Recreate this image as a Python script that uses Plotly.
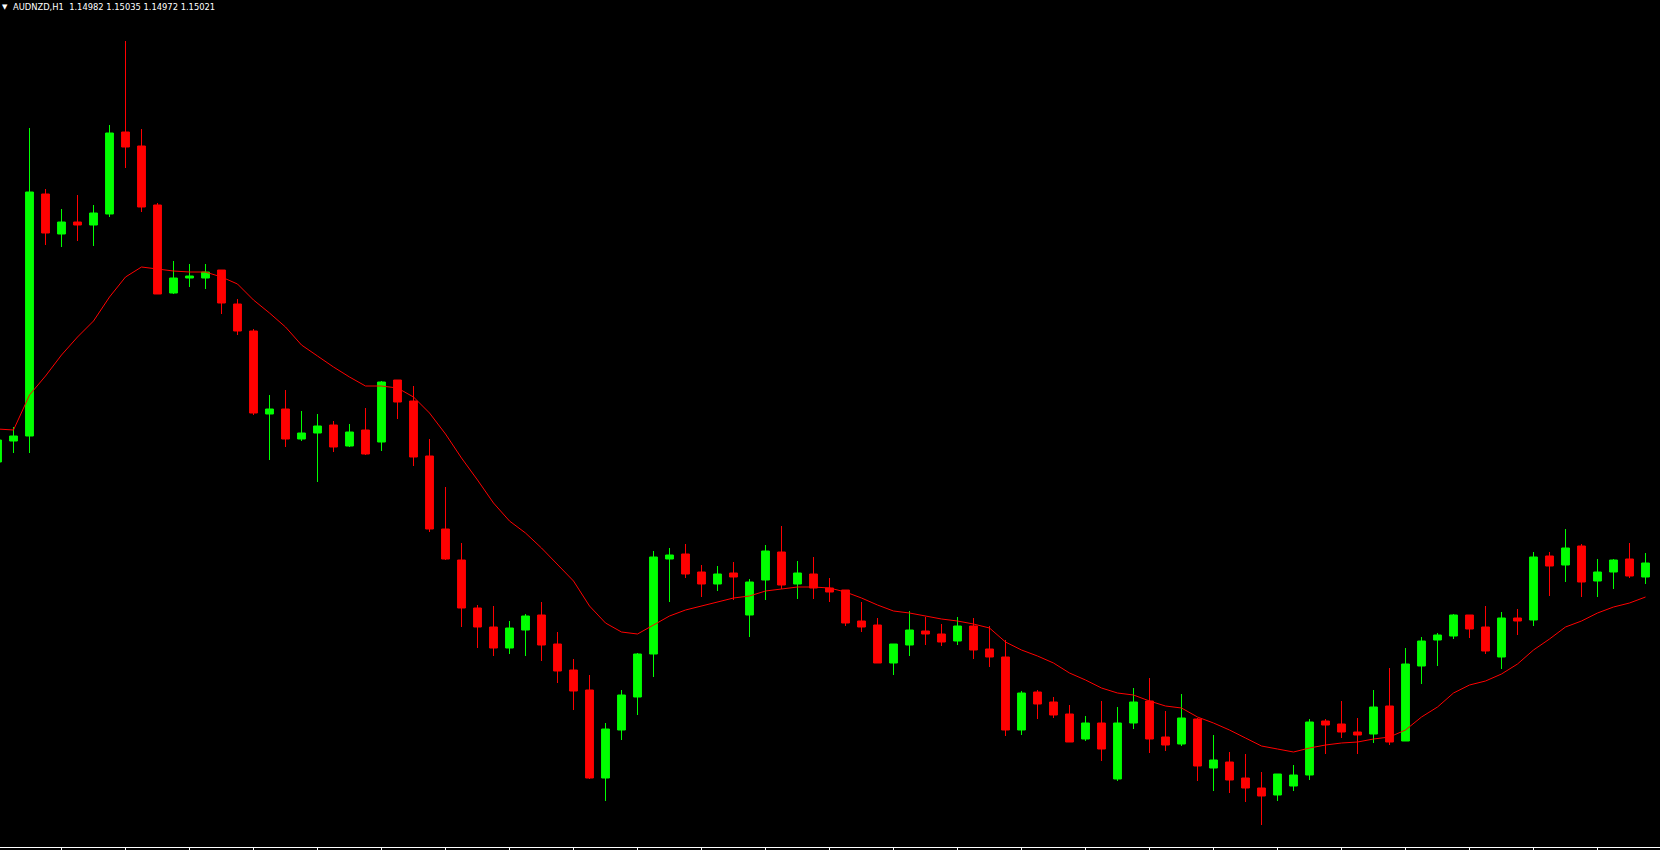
import plotly.graph_objects as go

symbol = "AUDNZD,H1"
header_values = ["1.14982", "1.15035", "1.14972", "1.15021"]

bars = list(range(104))

opens = [1.15122, 1.15143, 1.15148, 1.15390, 1.15350, 1.15362, 1.15359, 1.15370, 1.15452, 1.15438,
         1.15379, 1.15291, 1.15306, 1.15306, 1.15314, 1.15280, 1.15253, 1.15170, 1.15175, 1.15145,
         1.15151, 1.15159, 1.15138, 1.15154, 1.15142, 1.15204, 1.15183, 1.15128, 1.15055, 1.15024,
         1.14976, 1.14957, 1.14936, 1.14954, 1.14969, 1.14940, 1.14914, 1.14894, 1.14806, 1.14854,
         1.14887, 1.14930, 1.15025, 1.15030, 1.15012, 1.15000, 1.15011, 1.14969, 1.15004, 1.15032,
         1.15000, 1.15010, 1.14996, 1.14994, 1.14963, 1.14959, 1.14921, 1.14939, 1.14953, 1.14950,
         1.14943, 1.14958, 1.14935, 1.14927, 1.14854, 1.14892, 1.14882, 1.14870, 1.14845, 1.14861,
         1.14805, 1.14861, 1.14883, 1.14847, 1.14840, 1.14865, 1.14816, 1.14822, 1.14806, 1.14796,
         1.14789, 1.14798, 1.14809, 1.14863, 1.14860, 1.14852, 1.14850, 1.14878, 1.14843, 1.14918,
         1.14944, 1.14948, 1.14969, 1.14957, 1.14927, 1.14966, 1.14964, 1.15028, 1.15019, 1.15038,
         1.15003, 1.15012, 1.15025, 1.15007]

highs = [1.15146, 1.15157, 1.15456, 1.15395, 1.15375, 1.15389, 1.15379, 1.15459, 1.15543, 1.15455,
         1.15381, 1.15323, 1.15320, 1.15320, 1.15314, 1.15285, 1.15255, 1.15189, 1.15194, 1.15173,
         1.15170, 1.15163, 1.15160, 1.15176, 1.15203, 1.15204, 1.15198, 1.15145, 1.15097, 1.15041,
         1.14979, 1.14978, 1.14963, 1.14970, 1.14982, 1.14952, 1.14925, 1.14909, 1.14861, 1.14894,
         1.14931, 1.15033, 1.15036, 1.15040, 1.15019, 1.15018, 1.15022, 1.15005, 1.15039, 1.15058,
         1.15023, 1.15027, 1.15006, 1.14994, 1.14982, 1.14966, 1.14940, 1.14973, 1.14967, 1.14960,
         1.14967, 1.14966, 1.14958, 1.14944, 1.14893, 1.14894, 1.14887, 1.14879, 1.14868, 1.14883,
         1.14877, 1.14896, 1.14906, 1.14873, 1.14890, 1.14866, 1.14849, 1.14832, 1.14830, 1.14812,
         1.14810, 1.14819, 1.14865, 1.14865, 1.14883, 1.14866, 1.14894, 1.14916, 1.14936, 1.14947,
         1.14951, 1.14970, 1.14969, 1.14978, 1.14972, 1.14975, 1.15032, 1.15032, 1.15055, 1.15040,
         1.15025, 1.15025, 1.15041, 1.15031]

lows = [1.15120, 1.15131, 1.15131, 1.15339, 1.15337, 1.15343, 1.15338, 1.15367, 1.15416, 1.15372,
        1.15290, 1.15290, 1.15297, 1.15295, 1.15270, 1.15249, 1.15169, 1.15124, 1.15137, 1.15143,
        1.15102, 1.15132, 1.15137, 1.15129, 1.15133, 1.15165, 1.15118, 1.15052, 1.15024, 1.14957,
        1.14936, 1.14928, 1.14930, 1.14928, 1.14923, 1.14901, 1.14874, 1.14805, 1.14783, 1.14844,
        1.14869, 1.14907, 1.14982, 1.15006, 1.14987, 1.14993, 1.14984, 1.14947, 1.14984, 1.14995,
        1.14985, 1.14985, 1.14982, 1.14958, 1.14952, 1.14921, 1.14909, 1.14928, 1.14939, 1.14938,
        1.14939, 1.14925, 1.14917, 1.14848, 1.14849, 1.14865, 1.14866, 1.14842, 1.14843, 1.14823,
        1.14803, 1.14855, 1.14831, 1.14833, 1.14838, 1.14803, 1.14793, 1.14791, 1.14782, 1.14759,
        1.14783, 1.14793, 1.14804, 1.14830, 1.14846, 1.14830, 1.14841, 1.14839, 1.14843, 1.14900,
        1.14918, 1.14945, 1.14946, 1.14930, 1.14915, 1.14949, 1.14958, 1.14988, 1.15002, 1.14987,
        1.14987, 1.14995, 1.15006, 1.15000]

closes = [1.15144, 1.15148, 1.15392, 1.15351, 1.15362, 1.15359, 1.15371, 1.15451, 1.15437, 1.15377,
          1.15290, 1.15306, 1.15308, 1.15312, 1.15281, 1.15253, 1.15171, 1.15175, 1.15145, 1.15151,
          1.15158, 1.15137, 1.15152, 1.15130, 1.15202, 1.15182, 1.15127, 1.15055, 1.15025, 1.14976,
          1.14957, 1.14936, 1.14956, 1.14968, 1.14939, 1.14913, 1.14893, 1.14806, 1.14855, 1.14889,
          1.14930, 1.15027, 1.15029, 1.15010, 1.15000, 1.15010, 1.15007, 1.15002, 1.15033, 1.14999,
          1.15011, 1.14996, 1.14992, 1.14961, 1.14957, 1.14921, 1.14940, 1.14954, 1.14950, 1.14942,
          1.14958, 1.14934, 1.14927, 1.14854, 1.14891, 1.14880, 1.14869, 1.14842, 1.14861, 1.14835,
          1.14861, 1.14882, 1.14845, 1.14839, 1.14866, 1.14818, 1.14824, 1.14804, 1.14796, 1.14788,
          1.14810, 1.14809, 1.14862, 1.14859, 1.14852, 1.14849, 1.14877, 1.14842, 1.14920, 1.14943,
          1.14949, 1.14969, 1.14955, 1.14933, 1.14966, 1.14963, 1.15027, 1.15018, 1.15036, 1.15002,
          1.15012, 1.15024, 1.15008, 1.15021]

moving_average = [1.15155, 1.15154, 1.15189, 1.15208, 1.15229, 1.15247, 1.15263, 1.15287, 1.15307, 1.15317,
                  1.15315, 1.15313, 1.15312, 1.15312, 1.15307, 1.15300, 1.15284, 1.15271, 1.15257, 1.15239,
                  1.15228, 1.15217, 1.15207, 1.15198, 1.15198, 1.15196, 1.15187, 1.15171, 1.15150, 1.15126,
                  1.15104, 1.15081, 1.15063, 1.15051, 1.15036, 1.15019, 1.15003, 1.14978, 1.14961, 1.14952,
                  1.14950, 1.14959, 1.14968, 1.14974, 1.14978, 1.14982, 1.14986, 1.14988, 1.14993, 1.14995,
                  1.14997, 1.14997, 1.14996, 1.14992, 1.14986, 1.14979, 1.14973, 1.14971, 1.14968, 1.14965,
                  1.14963, 1.14960, 1.14956, 1.14942, 1.14934, 1.14928, 1.14921, 1.14911, 1.14904, 1.14896,
                  1.14891, 1.14889, 1.14883, 1.14878, 1.14876, 1.14867, 1.14861, 1.14854, 1.14846, 1.14838,
                  1.14835, 1.14832, 1.14836, 1.14839, 1.14841, 1.14842, 1.14845, 1.14847, 1.14854, 1.14867,
                  1.14877, 1.14891, 1.14899, 1.14903, 1.14910, 1.14920, 1.14934, 1.14945, 1.14957, 1.14963,
                  1.14971, 1.14977, 1.14981, 1.14987]

tick_bars = list(range(4, 104, 4))

BULL = "#00FF00"
BEAR = "#FF0000"
BG = "#000000"

fig = go.Figure()
fig.add_trace(go.Candlestick(
    x=bars, open=opens, high=highs, low=lows, close=closes,
    increasing=dict(line=dict(color=BULL, width=1), fillcolor=BULL),
    decreasing=dict(line=dict(color=BEAR, width=1), fillcolor=BEAR),
    whiskerwidth=0,
    showlegend=False,
    hoverinfo="skip",
))
fig.add_trace(go.Scatter(
    x=bars, y=moving_average, mode="lines",
    line=dict(color=BEAR, width=1),
    showlegend=False, hoverinfo="skip",
))

fig.update_layout(
    width=1660, height=850,
    margin=dict(l=0, r=0, t=0, b=3, pad=0),
    paper_bgcolor=BG, plot_bgcolor=BG,
    showlegend=False,
    xaxis=dict(
        range=[0.15625, 103.90625],
        rangeslider=dict(visible=False),
        showgrid=False, zeroline=False,
        showline=True, linecolor="#FFFFFF", linewidth=1,
        ticks="outside", ticklen=3, tickwidth=1, tickcolor="#FFFFFF",
        tickvals=tick_bars, showticklabels=False,
        fixedrange=True,
    ),
    yaxis=dict(
        range=[1.14737, 1.15584],
        showgrid=False, zeroline=False, showline=False,
        showticklabels=False, ticks="",
        fixedrange=True,
    ),
    annotations=[
        dict(xref="paper", yref="paper", x=0.0, y=0.9985, xanchor="left", yanchor="top",
             text="▼", showarrow=False, font=dict(family="DejaVu Sans", size=7, color="#FFFFFF")),
        dict(xref="paper", yref="paper", x=0.0066, y=1.0, xanchor="left", yanchor="top",
             text=symbol + "&nbsp; " + " ".join(header_values), showarrow=False,
             font=dict(family="Tahoma, DejaVu Sans, sans-serif", size=8.35, color="#FFFFFF")),
    ],
)

fig.write_html(
    "out.html",
    config={"displayModeBar": False, "staticPlot": True},
    post_script="document.body.style.margin='0';document.body.style.background='#000';document.body.style.overflow='hidden';",
)
